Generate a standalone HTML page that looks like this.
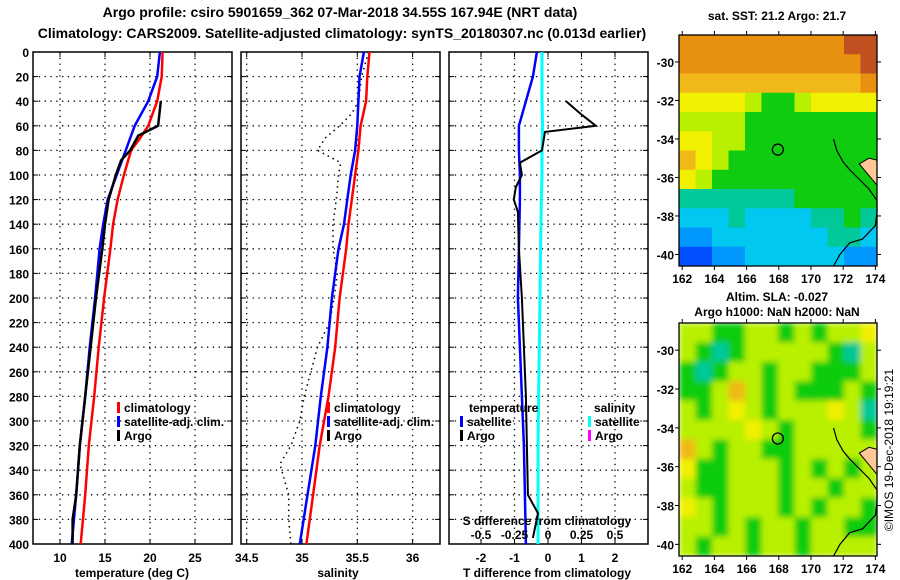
<!DOCTYPE html>
<html><head><meta charset="utf-8"><style>
html,body{margin:0;padding:0;background:#fff;}
svg{display:block;font-family:"Liberation Sans",sans-serif;font-weight:bold;}
</style></head><body>
<svg id="fig" width="900" height="580" viewBox="0 0 900 580" xmlns="http://www.w3.org/2000/svg">
<defs><filter id="soft" x="0" y="0" width="1" height="1"><feGaussianBlur stdDeviation="3" edgeMode="duplicate"/></filter>
<clipPath id="clipSla"><rect x="679" y="323" width="198" height="233"/></clipPath>
<clipPath id="clipSst"><rect x="679" y="35" width="198" height="231"/></clipPath></defs>
<text x="340" y="17" font-size="14" text-anchor="middle">Argo profile: csiro 5901659_362 07-Mar-2018 34.55S 167.94E (NRT data)</text>
<text x="342" y="38" font-size="14" text-anchor="middle">Climatology: CARS2009. Satellite-adjusted climatology: synTS_20180307.nc (0.013d earlier)</text>
<g id="plots"></g>
</svg>
<script>
// ---- data ----
const depthTicks=[0,20,40,60,80,100,120,140,160,180,200,220,240,260,280,300,320,340,360,380,400];
const tTicks=[10,15,20,25];
const sTicks=[34.5,35,35.5,36];
const dTTicks=[-2,-1,0,1,2];
const dSTicks=[-0.5,-0.25,0,0.25,0.5];
const lonTicks=[162,164,166,168,170,172,174];
const latTicks=[-30,-32,-34,-36,-38,-40];

const climDepth=[0,20,40,60,70,80,100,120,140,160,200,240,280,320,360,400];
const climT=[21.4,21.3,20.8,19.8,18.9,17.9,17.1,16.4,15.9,15.6,14.9,14.3,13.8,13.2,12.8,12.3];
const satT=[21.1,20.8,19.8,18.3,17.8,17.3,16.3,15.3,14.8,14.4,13.9,13.3,12.8,12.2,11.8,11.3];
const argoTDepth=[40,60,68,80,88,100,120,140,160,200,240,280,320,360,380,400];
const argoT=[21.2,20.9,18.7,17.8,16.8,16.2,15.4,15.0,14.7,14.0,13.4,12.8,12.2,11.8,11.4,11.4];

const climS=[35.61,35.59,35.58,35.53,35.52,35.51,35.48,35.45,35.42,35.40,35.34,35.30,35.24,35.16,35.10,35.04];
const satS=[35.56,35.52,35.51,35.50,35.49,35.48,35.44,35.41,35.38,35.33,35.27,35.23,35.17,35.12,35.05,34.98];
const argoSDepth=[0,20,40,50,60,70,80,90,100,120,140,160,180,200,220,240,280,300,320,335,360,380,400];
const argoS=[35.60,35.54,35.51,35.45,35.34,35.21,35.14,35.35,35.33,35.31,35.28,35.28,35.32,35.29,35.25,35.14,35.02,34.98,34.90,34.80,34.88,34.88,34.90];

const dDepth=[0,20,40,60,80,100,120,160,200,240,280,320,360,400];
const satDT=[-0.33,-0.45,-0.66,-0.87,-0.87,-0.84,-0.84,-0.87,-0.90,-0.84,-0.78,-0.72,-0.69,-0.66];
const satDS=[-0.045,-0.045,-0.045,-0.04,-0.045,-0.045,-0.05,-0.055,-0.06,-0.065,-0.07,-0.075,-0.075,-0.075];
const argoDTDepth=[40,50,60,65,80,90,100,110,120,130,160,200,240,280,320,360,375,395];
const argoDT=[0.54,0.96,1.43,-0.09,-0.18,-0.84,-0.78,-0.96,-1.02,-0.90,-0.87,-0.78,-0.72,-0.66,-0.63,-0.60,-0.30,-0.45];

const sstGrid=[
[9,9,9,9,9,9,9,9,9,9,10,10],
[9,9,9,9,9,9,9,9,9,9,9,10],
[8,8,8,8,8,8,8,8,8,8,8,9],
[7,7,7,7,6,5,5,6,7,7,7,7],
[6,6,6,6,5,5,5,5,5,5,5,5],
[7,7,6,6,5,5,5,5,5,5,5,5],
[8,7,6,5,5,5,5,5,5,5,5,5],
[7,6,5,5,5,5,5,5,5,5,5,5],
[4,4,4,4,4,4,4,5,5,5,5,5],
[3,3,3,4,3,3,3,3,4,4,5,4],
[2,2,3,3,3,3,3,3,3,4,4,3],
[1,1,2,2,3,3,3,3,3,3,2,2]];
const slaGrid=[
[6,6,5,5,6,6,5,6,5,6,6,7],
[6,5,4,5,6,6,6,6,6,5,4,6],
[5,4,5,6,6,5,6,6,5,5,5,6],
[5,5,6,8,6,5,6,5,5,5,6,5],
[6,5,6,7,6,5,6,6,6,7,6,4],
[6,6,6,6,7,6,5,6,6,6,6,5],
[8,6,5,6,6,5,5,6,6,6,6,6],
[7,5,5,6,6,6,5,6,5,6,5,6],
[6,5,5,6,6,6,5,6,6,5,6,6],
[7,6,5,6,6,6,5,6,5,6,6,5],
[6,6,5,6,5,6,6,5,6,6,5,5],
[6,5,6,6,5,6,6,5,6,6,6,6]];
const palette=["#0000a0","#0050ff","#0098ff","#00c8f0","#00c898","#10cc10","#b8f000","#f0f000","#f0b818","#e89010","#c05020"];
const coastLon=[171.4,171.6,172.0,172.4,173.0,173.6,174.1];
const coastLat=[-34.0,-34.6,-35.2,-35.6,-36.1,-36.6,-37.2];
// ---- helpers ----
const NS="http://www.w3.org/2000/svg";
const G=document.getElementById('plots');
function el(tag,attrs,parent){const e=document.createElementNS(NS,tag);for(const k in attrs)e.setAttribute(k,attrs[k]);(parent||G).appendChild(e);return e;}
const Y0=52,Y1=544;
const yD=d=>Y0+d*(Y1-Y0)/400;
const xT=t=>60+(t-10)*9;
const xS=s=>302+(s-35)*110.6;
const xDT=t=>548+t*33.5;
const xDS=s=>548+s*134;

function panel(name,x0,x1,gridXs){
  const g=el('g',{});
  
  
  depthTicks.forEach(d=>{if(d>0&&d<400){el('line',{x1:x0,x2:x1,y1:yD(d),y2:yD(d),stroke:'#000','stroke-width':1.3,'stroke-dasharray':'1.3 4.5'},g);
    el('line',{x1:x0,x2:x0+5,y1:yD(d),y2:yD(d),stroke:'#000'},g);el('line',{x1:x1-5,x2:x1,y1:yD(d),y2:yD(d),stroke:'#000'},g);}});
  gridXs.forEach(x=>{el('line',{x1:x,x2:x,y1:Y0,y2:Y1,stroke:'#000','stroke-width':1.3,'stroke-dasharray':'1.3 4.5'},g);
    el('line',{x1:x,x2:x,y1:Y0,y2:Y0+5,stroke:'#000'},g);el('line',{x1:x,x2:x,y1:Y1-5,y2:Y1,stroke:'#000'},g);});
  el('rect',{x:x0,y:Y0,width:x1-x0,height:Y1-Y0,fill:'none',stroke:'#000','stroke-width':1.5},g);
  return g;
}
function line(g,xs,ds,color,w,name,dash){
  const p=el('polyline',{points:xs.map((v,i)=>v.toFixed(1)+','+yD(ds[i]).toFixed(1)).join(' '),fill:'none',stroke:color,'stroke-width':w},g);
  if(dash)p.setAttribute('stroke-dasharray',dash);
  
  
}
function txt(g,x,y,s,size,anchor,name){const t=el('text',{x:x,y:y,'font-size':size,'text-anchor':anchor||'middle'},g);t.textContent=s;
  return t;}
function legItem(g,x,y,color,label,name){el('rect',{x:x,y:y-10,width:3,height:11,fill:color},g);
  const t=txt(g,x+7,y,label,12,'start',name);return t;}

// Panel 1 temperature
const p1=panel('temperature-panel',33,232,tTicks.map(xT));
depthTicks.forEach(d=>txt(p1,29,yD(d)+5,String(d),12,'end','y-tick-label'));
tTicks.forEach(t=>txt(p1,xT(t),562,String(t),12,'middle','x-tick-label'));
txt(p1,132,577,'temperature (deg C)',12,'middle','x-axis-title');
line(p1,climT.map(xT),climDepth,'#f00',2.5,'climatology-temperature-line');
line(p1,satT.map(xT),climDepth,'#00f',2.5,'satellite-temperature-line');
line(p1,argoT.map(xT),argoTDepth,'#000',2.5,'argo-temperature-line');
legItem(p1,117,412,'#f00','climatology','legend-climatology');
legItem(p1,117,426,'#00f','satellite-adj. clim.','legend-satellite');
legItem(p1,117,440,'#000','Argo','legend-argo');

// Panel 2 salinity
const p2=panel('salinity-panel',241,440,sTicks.map(xS));
sTicks.forEach(s=>txt(p2,xS(s),562,String(s),12,'middle','x-tick-label'));
txt(p2,338,577,'salinity',12,'middle','x-axis-title');
line(p2,argoS.map(xS),argoSDepth,'#000',1.5,'argo-salinity-line','1.5 4');
line(p2,climS.map(xS),climDepth,'#f00',2.5,'climatology-salinity-line');
line(p2,satS.map(xS),climDepth,'#00f',2.5,'satellite-salinity-line');
legItem(p2,327,412,'#f00','climatology','legend-climatology');
legItem(p2,327,426,'#00f','satellite-adj. clim.','legend-satellite');
legItem(p2,327,440,'#000','Argo','legend-argo');

// Panel 3 differences
const p3=panel('difference-panel',449,648,dTTicks.map(xDT));
line(p3,satDS.map(xDS),dDepth,'#00ffff',3,'satellite-salinity-diff-line');
line(p3,satDT.map(xDT),dDepth,'#00f',2.5,'satellite-temperature-diff-line');
line(p3,argoDT.map(xDT),argoDTDepth,'#000',2,'argo-temperature-diff-line');
txt(p3,469,412,'temperature',12,'start','legend-temperature-heading');
legItem(p3,460,426,'#00f','satellite','legend-temp-satellite');
legItem(p3,460,440,'#000','Argo','legend-temp-argo');
txt(p3,594,412,'salinity',12,'start','legend-salinity-heading');
legItem(p3,588,426,'#00ffff','satellite','legend-sal-satellite');
legItem(p3,588,440,'#ff00ff','Argo','legend-sal-argo');
txt(p3,547,525,'S difference from climatology',12,'middle','s-axis-title');
dSTicks.forEach(s=>txt(p3,xDS(s),539,String(s),12,'middle','s-tick-label'));
dTTicks.forEach(t=>txt(p3,xDT(t),562,String(t),12,'middle','x-tick-label'));
txt(p3,547,577,'T difference from climatology',12,'middle','x-axis-title');

// Maps
function map(name,grid,top,bottom,blur,clip,titles){
  const L=679,R=877;
  const g=el('g',{});
  
  
  const lonX=lo=>L+(lo-161.8)*(R-L)/12.3;
  const latY=la=>top+(-28.6-la)*(bottom-top)/12;
  const rows=grid.length,cols=grid[0].length,cw=(R-L)/cols,ch=(bottom-top)/rows;
  const cg=el('g',{'clip-path':'url(#'+clip+')'},g);
  const cells=el('g',{filter:'url(#soft)'},cg);
  if(!blur)cells.removeAttribute('filter');
  grid.forEach((row,r)=>row.forEach((v,c)=>{
    const cell=el('rect',{x:(L+c*cw).toFixed(2),y:(top+r*ch).toFixed(2),width:(cw+0.6).toFixed(2),height:(ch+0.6).toFixed(2),fill:palette[v]},cells);
    
    
  }));
  el('polygon',{points:[[173.0,-35.3],[173.6,-35.0],[174.1,-35.1],[174.1,-36.4],[173.6,-35.9]].map(p=>lonX(p[0])+','+latY(p[1])).join(' '),fill:'#ffc896',stroke:'#000','stroke-width':1},g);
  el('polyline',{points:coastLon.map((lo,i)=>lonX(lo)+','+latY(coastLat[i])).join(' ')+' '+[[174.1,-37.8],[174.0,-38.5],[173.2,-39.2],[172.4,-39.4],[171.8,-40.0],[171.4,-40.6]].map(p=>lonX(p[0])+','+latY(p[1])).join(' '),fill:'none',stroke:'#000','stroke-width':1.2},g);
  const c=el('circle',{cx:lonX(167.94),cy:latY(-34.55),r:5.5,fill:'none',stroke:'#000','stroke-width':1.3},g);
  
  
  el('rect',{x:L,y:top,width:R-L,height:bottom-top,fill:'none',stroke:'#000','stroke-width':1.3},g);
  lonTicks.forEach(lo=>{el('line',{x1:lonX(lo),x2:lonX(lo),y1:top-4,y2:top,stroke:'#000'},g);el('line',{x1:lonX(lo),x2:lonX(lo),y1:bottom,y2:bottom+4,stroke:'#000'},g);
    txt(g,lonX(lo),bottom+17,String(lo),12,'middle','map-lon-label');});
  latTicks.forEach(la=>{el('line',{x1:L-4,x2:L,y1:latY(la),y2:latY(la),stroke:'#000'},g);el('line',{x1:R,x2:R+4,y1:latY(la),y2:latY(la),stroke:'#000'},g);
    txt(g,674,latY(la)+5,String(la),12,'end','map-lat-label');});
  titles.forEach(t=>txt(g,777,t[1],t[0],12,'middle','map-title'));
}
map('sst-map',sstGrid,35,266,false,'clipSst',[['sat. SST: 21.2 Argo: 21.7',20]]);
map('sla-map',slaGrid,323,556,true,'clipSla',[['Altim. SLA: -0.027',301],['Argo h1000: NaN h2000: NaN',316]]);
const cr=txt(G,0,0,'©IMOS 19-Dec-2018 19:19:21',12,'middle','timestamp');
cr.setAttribute('font-weight','normal');
cr.setAttribute('transform','translate(893,450) rotate(-90)');
</script>
</body></html>
